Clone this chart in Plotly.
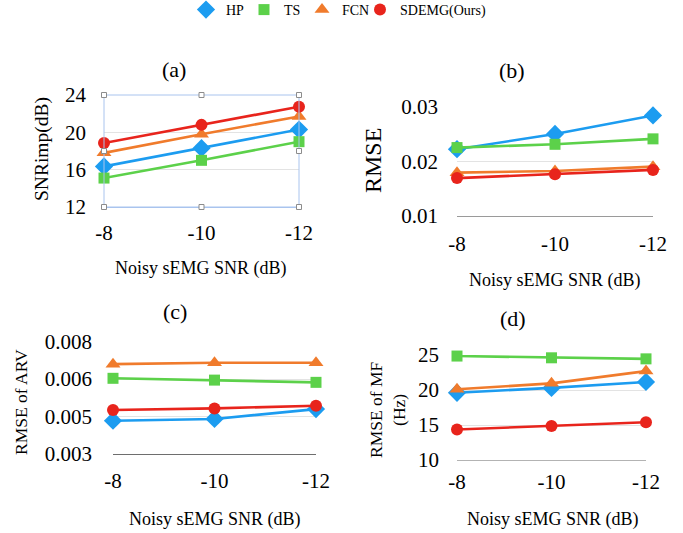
import plotly.graph_objects as go

W, H = 683, 533

categories = ["-8", "-10", "-12"]
methods = ["HP", "TS", "FCN", "SDEMG(Ours)"]
colors = {"HP": "#1C9CF0", "TS": "#5CD14A", "FCN": "#F07B2C", "SDEMG(Ours)": "#E8241C"}
symbols = {"HP": "diamond", "TS": "square", "FCN": "triangle-up", "SDEMG(Ours)": "circle"}
msize = {"HP": 14, "TS": 11, "FCN": 13, "SDEMG(Ours)": 12}

snr_imp = {
    "HP": [16.35, 18.3, 20.3],
    "TS": [15.1, 17.0, 19.0],
    "FCN": [17.8, 19.8, 21.7],
    "SDEMG(Ours)": [18.85, 20.8, 22.75],
}
rmse = {
    "HP": [0.0222, 0.0250, 0.0284],
    "TS": [0.0225, 0.0231, 0.0241],
    "FCN": [0.0179, 0.0182, 0.0190],
    "SDEMG(Ours)": [0.0169, 0.0176, 0.0184],
}
rmse_arv = {
    "HP": [0.00448, 0.00456, 0.00500],
    "TS": [0.00637, 0.00629, 0.00619],
    "FCN": [0.00700, 0.00706, 0.00706],
    "SDEMG(Ours)": [0.00496, 0.00503, 0.00515],
}
rmse_mf = {
    "HP": [19.6, 20.3, 21.15],
    "TS": [24.85, 24.6, 24.45],
    "FCN": [20.1, 20.95, 22.7],
    "SDEMG(Ours)": [14.35, 14.85, 15.4],
}

arv_tickvals = [0.003, 0.0046667, 0.0063333, 0.008]
arv_ticktext = ["0.003", "0.005", "0.006", "0.008"]

FONT = "Liberation Serif, Times New Roman, serif"

def fx(x):
    return x / W

def fy(y):
    return 1 - y / H

panels = [
    dict(data=snr_imp, xd=[fx(104), fx(299)], yd=[fy(207), fy(95)], rng=[12, 24],
         tv=[12, 16, 20, 24], tt=["12", "16", "20", "24"], line="#a9c4ee", so=7, yso=17),
    dict(data=rmse, xd=[fx(457), fx(653)], yd=[fy(215.7), fy(106.7)], rng=[0.01, 0.03],
         tv=[0.01, 0.02, 0.03], tt=["0.01", "0.02", "0.03"], line="#9a9a9a", so=9, yso=18),
    dict(data=rmse_arv, xd=[fx(113), fx(316)], yd=[fy(454), fy(341.7)], rng=[0.003, 0.008],
         tv=arv_tickvals, tt=arv_ticktext, line="#6e6e6e", so=8, yso=20),
    dict(data=rmse_mf, xd=[fx(457), fx(646)], yd=[fy(460), fy(355)], rng=[10, 25],
         tv=[10, 15, 20, 25], tt=["10", "15", "20", "25"], line="#b3b3b3", so=3, yso=17),
]

fig = go.Figure()
layout = {}
for i, p in enumerate(panels):
    n = "" if i == 0 else str(i + 1)
    xa, ya = "x" + n, "y" + n
    for m in methods:
        fig.add_trace(go.Scatter(
            x=categories, y=p["data"][m], xaxis=xa, yaxis=ya,
            mode="lines+markers", showlegend=False, cliponaxis=False,
            line=dict(color=colors[m], width=2.6),
            marker=dict(symbol=symbols[m], size=msize[m], color=colors[m]),
            hoverinfo="skip",
        ))
    layout["xaxis" + n] = dict(
        domain=p["xd"], anchor=ya, type="category", range=[0, 2],
        showgrid=False, zeroline=False, showline=True, linecolor=p["line"], linewidth=1,
        ticks="", tickfont=dict(family=FONT, size=21, color="black"),
        ticklabelstandoff=p["so"], fixedrange=True,
    )
    layout["yaxis" + n] = dict(
        domain=p["yd"], anchor=xa, range=p["rng"], tickvals=p["tv"], ticktext=p["tt"],
        showgrid=True, gridcolor="#e3e3e3", gridwidth=1, zeroline=False, showline=False,
        ticks="", tickfont=dict(family=FONT, size=21, color="black"),
        ticklabelstandoff=p["yso"], fixedrange=True,
    )

# legend entries (markers only); two blank spacers keep the last label unclipped
for m in methods:
    fig.add_trace(go.Scatter(
        x=[None], y=[None], mode="markers", name=m,
        marker=dict(symbol=symbols[m], size=msize[m], color=colors[m]),
    ))
for k in range(2):
    fig.add_trace(go.Scatter(
        x=[None], y=[None], mode="markers", name=" " * (k + 1),
        marker=dict(size=1, opacity=0, color="white"),
    ))

def ann(text, x, y, size, angle=0):
    return dict(text=text, x=fx(x), y=fy(y), xref="paper", yref="paper",
                showarrow=False, textangle=angle, xanchor="center", yanchor="middle",
                font=dict(family=FONT, size=size, color="black"))

annotations = [
    ann("(a)", 174, 69, 22), ann("(b)", 512, 70, 22), ann("(c)", 175, 311, 22), ann("(d)", 513, 318, 22),
    ann("SNRimp(dB)", 42, 149, 19.5, -90), ann("RMSE", 373, 161, 24, -90),
    ann("RMSE of ARV", 21, 402, 17.5, -90), ann("RMSE of MF<br>(Hz)", 387, 410, 17.5, -90),
    ann("Noisy sEMG SNR (dB)", 201, 268, 18), ann("Noisy sEMG SNR (dB)", 555, 280, 18),
    ann("Noisy sEMG SNR (dB)", 215, 519, 18), ann("Noisy sEMG SNR (dB)", 553, 519, 18),
]

shapes = [dict(type="rect", xref="x domain", yref="y domain", x0=0, x1=1, y0=0, y1=1,
               line=dict(color="#a9c4ee", width=1), fillcolor="rgba(0,0,0,0)", layer="above")]
hw, hh = 2.5 / 195, 2.5 / 112
for hx in (0, 0.5, 1):
    for hy in (0, 0.5, 1):
        if hx == 0.5 and hy == 0.5:
            continue
        shapes.append(dict(type="rect", xref="x domain", yref="y domain",
                           x0=hx - hw, x1=hx + hw, y0=hy - hh, y1=hy + hh,
                           line=dict(color="#8c8c8c", width=1), fillcolor="white", layer="above"))

fig.update_layout(
    width=W, height=H, margin=dict(l=0, r=0, t=0, b=0, autoexpand=False),
    paper_bgcolor="white", plot_bgcolor="white",
    legend=dict(orientation="h", x=fx(186), xanchor="left", y=1 + 6 / H, yanchor="top",
                font=dict(family=FONT, size=14, color="black"), itemwidth=30,
                entrywidth=13, tracegroupgap=0, bgcolor="rgba(0,0,0,0)"),
    annotations=annotations, shapes=shapes, **layout,
)

fig.write_html("out.html", config={"displayModeBar": False},
               post_script="document.body.style.margin='0';")
